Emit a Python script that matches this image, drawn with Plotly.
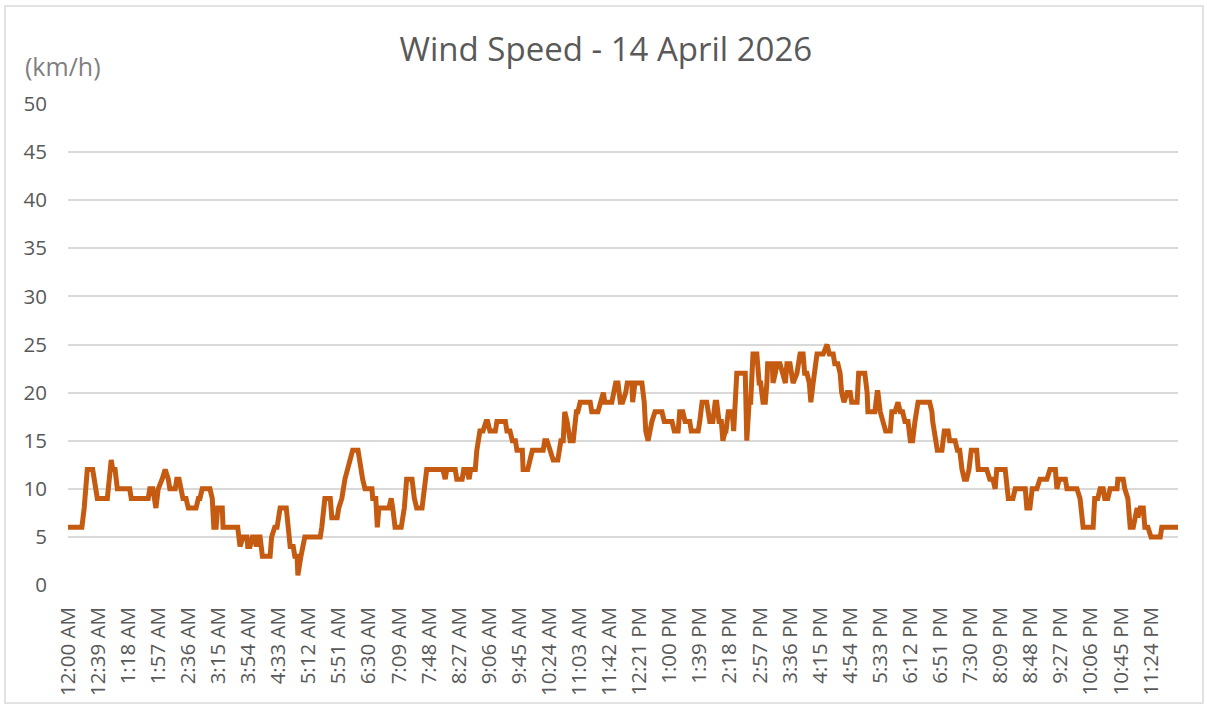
import plotly.graph_objects as go

# minutes after midnight (breakpoints) and wind speed (km/h)
minutes = [0, 18, 21, 25, 32, 35, 38, 51, 53, 56, 58, 61, 64, 80, 82, 104, 106, 110, 114, 117,
           122, 126, 130, 132, 139, 141, 144, 146, 149, 153, 156, 166, 169,
           171, 174, 184, 187, 189, 192, 194, 200, 201, 220, 223, 227, 232, 233, 236, 239, 242,
           244, 246, 249, 252, 262, 264, 268, 271, 275, 283, 285, 288, 292, 294, 297, 298, 302,
           305, 307, 327, 329, 333, 340, 342, 349, 351, 355, 359, 362, 366, 369, 376, 379, 382,
           385, 394, 395, 399, 401, 403, 416, 419, 421, 424, 432, 436, 439, 446, 449, 452, 459,
           462, 465, 486, 489, 491, 502, 504, 511, 513, 517, 520, 522, 528, 530, 534, 538, 542,
           544, 547, 554, 556, 567, 569, 573, 576, 580, 582, 589, 590, 596, 599, 602, 616, 618,
           621, 625, 629, 635, 639, 642, 644, 647, 651, 655, 659, 661, 664, 677, 679, 687, 690,
           694, 696, 705, 710, 713, 716, 719, 723, 725, 731, 732, 735, 744, 747, 749, 752, 754,
           757, 761, 770, 773, 783, 786, 791, 793, 797, 800, 806, 808, 817, 819, 822, 828, 830,
           832, 836, 839, 841, 844, 847, 849, 852, 853, 856, 861, 863, 865, 867, 878, 880, 883,
           885, 888, 893, 896, 898, 901, 904, 906, 907, 913, 914, 917, 919, 923, 926, 930, 932,
           936, 940, 945, 949, 953, 955, 958, 961, 963, 966, 971, 979, 984, 987, 992, 994, 998,
           1001, 1003, 1006, 1010, 1014, 1016, 1023, 1025, 1033, 1036, 1037, 1046, 1049, 1050,
           1053, 1057, 1060, 1066, 1068, 1072, 1075, 1076, 1079, 1082, 1085, 1089, 1092, 1095,
           1098, 1102, 1117, 1120, 1121, 1127, 1130, 1133, 1136, 1141, 1143, 1150, 1153, 1156,
           1159, 1162, 1165, 1168, 1171, 1178, 1180, 1191, 1195, 1199, 1202, 1204, 1215, 1217,
           1219, 1225, 1228, 1241, 1243, 1247, 1250, 1256, 1260, 1269, 1273, 1280, 1282, 1285,
           1293, 1295, 1308, 1312, 1313, 1316, 1329, 1331, 1335, 1338, 1342, 1344, 1348, 1351,
           1360, 1361, 1368, 1370, 1374, 1377, 1381, 1383, 1386, 1387, 1390, 1394, 1396, 1400,
           1404, 1416, 1418, 1439]

speeds = [6, 6, 8, 12, 12, 10, 9, 9, 11, 13, 12, 12, 10, 10, 9, 9, 10, 10, 8, 10,
          11, 12, 11, 10, 10, 11, 11, 10, 9, 9, 8, 8, 9,
          9, 10, 10, 9, 6, 6, 8, 8, 6, 6, 4, 5, 5, 4, 4, 5, 5,
          4, 5, 5, 3, 3, 5, 6, 6, 8, 8, 6, 4, 4, 3, 3, 1, 3,
          4, 5, 5, 6, 9, 9, 7, 7, 8, 9, 11, 12, 13, 14, 14, 12, 11,
          10, 10, 9, 9, 6, 8, 8, 9, 8, 6, 6, 8, 11, 11, 9, 8, 8,
          10, 12, 12, 11, 12, 12, 11, 11, 12, 12, 11, 12, 12, 14, 16, 16, 17,
          17, 16, 16, 17, 17, 16, 16, 15, 15, 14, 14, 12, 12, 13, 14, 14, 15,
          15, 14, 13, 13, 15, 15, 18, 17, 15, 15, 18, 18, 19, 19, 18, 18, 19,
          20, 19, 19, 21, 21, 19, 19, 20, 21, 21, 19, 21, 21, 19, 16, 15, 16,
          17, 18, 18, 17, 17, 16, 16, 18, 18, 17, 17, 16, 16, 17, 19, 19, 18,
          17, 17, 19, 19, 17, 17, 15, 16, 16, 18, 18, 16, 21, 22, 22, 15, 19,
          19, 24, 24, 21, 21, 19, 19, 21, 23, 23, 21, 22, 23, 23, 22, 21, 23,
          23, 21, 22, 24, 24, 22, 22, 21, 19, 21, 24, 24, 25, 24, 24, 23, 23,
          22, 20, 19, 20, 20, 19, 19, 22, 22, 20, 18, 18, 20, 20,
          18, 17, 16, 16, 18, 18, 19, 19, 18, 18, 17, 17, 15, 15,
          17, 19, 19, 18, 17, 14, 14, 14, 16, 16, 15, 15, 14, 14,
          12, 11, 11, 12, 14, 14, 12, 12, 11, 11, 10, 12, 12, 10,
          9, 9, 10, 10, 8, 8, 10, 10, 11, 11, 12, 12, 10, 11,
          11, 10, 10, 9, 8, 6, 6, 9, 9, 10, 10, 9, 9, 10,
          10, 11, 11, 10, 9, 6, 6, 7, 8, 7, 8, 8, 6, 6,
          5, 5, 6, 6]

tick_minutes = [0, 39, 78, 117, 156, 195, 234, 273, 312, 351, 390, 429, 468, 507, 546, 585,
                624, 663, 702, 741, 780, 819, 858, 897, 936, 975, 1014, 1053, 1092, 1131,
                1170, 1209, 1248, 1287, 1326, 1365, 1404]
tick_labels = ["12:00 AM", "12:39 AM", "1:18 AM", "1:57 AM", "2:36 AM", "3:15 AM", "3:54 AM",
               "4:33 AM", "5:12 AM", "5:51 AM", "6:30 AM", "7:09 AM", "7:48 AM", "8:27 AM",
               "9:06 AM", "9:45 AM", "10:24 AM", "11:03 AM", "11:42 AM", "12:21 PM", "1:00 PM",
               "1:39 PM", "2:18 PM", "2:57 PM", "3:36 PM", "4:15 PM", "4:54 PM", "5:33 PM",
               "6:12 PM", "6:51 PM", "7:30 PM", "8:09 PM", "8:48 PM", "9:27 PM", "10:06 PM",
               "10:45 PM", "11:24 PM"]
y_ticks = [0, 5, 10, 15, 20, 25, 30, 35, 40, 45, 50]

FONT = "Open Sans"
GREY = "#595959"

fig = go.Figure()
fig.add_trace(go.Scatter(
    x=minutes, y=speeds, mode="lines",
    line=dict(color="#C55A11", width=5),
    hoverinfo="skip", showlegend=False,
))

fig.update_layout(
    width=1207, height=709, autosize=False,
    margin=dict(l=68, r=29, t=104, b=124),
    paper_bgcolor="white", plot_bgcolor="white",
    font=dict(family=FONT, color=GREY, size=20),
    title=dict(text="Wind Speed - 14 April 2026", xref="container", yref="container",
               x=0.502, y=0.93, xanchor="center", yanchor="middle",
               font=dict(family=FONT, size=33, color=GREY)),
    xaxis=dict(range=[0, 1439], tickmode="array", tickvals=tick_minutes, ticktext=tick_labels,
               tickangle=-90, showgrid=False, zeroline=False, showline=False,
               ticks="", ticklabelstandoff=17,
               tickfont=dict(family=FONT, size=20.5, color=GREY)),
    yaxis=dict(range=[0, 50], tickmode="array", tickvals=y_ticks,
               showgrid=True, gridcolor="#d9d9d9", gridwidth=1.5,
               zeroline=False, showline=False, ticks="", ticklabelstandoff=20,
               tickfont=dict(family=FONT, size=20.5, color=GREY)),
    shapes=[dict(type="rect", xref="paper", yref="paper",
                 x0=-0.0568, x1=1.0225, y0=-0.2453, y1=1.2037,
                 line=dict(color="#d9d9d9", width=1.5), fillcolor="rgba(0,0,0,0)", layer="below")],
    annotations=[dict(text="(km/h)", xref="paper", yref="paper", x=-0.0405, y=1.079,
                      xanchor="left", yanchor="middle", showarrow=False,
                      font=dict(family=FONT, size=25, color="#7f7f7f"))],
)

fig.write_html("out.html", config={"displayModeBar": False},
               post_script="document.body.style.margin='0';document.body.style.padding='0';")
